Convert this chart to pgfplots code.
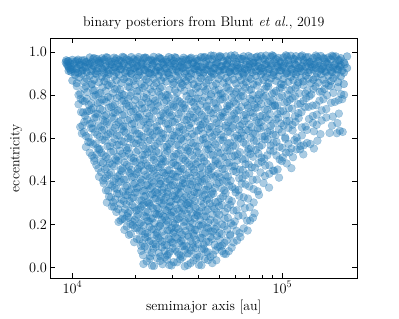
\documentclass[border=0pt]{standalone}
\usepackage{pgfplots}
\pgfplotsset{compat=1.18}
\definecolor{tabblue}{RGB}{31,119,180}
\pgfplotsset{pts/.style={only marks, mark=*, mark size=3.95bp, color=tabblue, opacity=0.38, mark options={line width=0.3bp}},
 ptstop/.style={only marks, mark=*, mark size=3.95bp, color=tabblue, opacity=0.45, mark options={line width=0.3bp}}}
\begin{document}
\begin{tikzpicture}
\begin{axis}[
  scale only axis, width=306.5bp, height=239.5bp,
  at={(0,0)}, anchor=south west,
  xmode=log, xmin=7870, xmax=227000, ymin=-0.048, ymax=1.062,
  xtick={10000,100000},
  ytick={0,0.2,0.4,0.6,0.8,1},
  yticklabel style={/pgf/number format/.cd, fixed, fixed zerofill, precision=1},
  tick align=inside, xtick pos=both, ytick pos=both,
  major tick length=4.9bp, minor tick length=2.8bp,
  every tick/.style={black, line width=0.6bp},
  axis line style={line width=0.8bp},
  tick label style={font=\fontsize{13.9bp}{16bp}\selectfont},
  label style={font=\fontsize{13.9bp}{16bp}\selectfont},
  title style={font=\fontsize{13.9bp}{16bp}\selectfont},
  title={binary posteriors from Blunt \textit{et al.}, 2019},
  xlabel={semimajor axis [au]},
  ylabel={eccentricity},
]
% e 0.00-0.30
\addplot[pts] coordinates {
(21800,.017) (23400,.042) (24500,.008) (26200,.031) (27600,.048) (29000,.012) (30400,.026) (32700,.039) (34300,.006) (36600,.021) (38900,.045) (41200,.011) (44300,.035) (48500,.034)
(21300,.078) (22100,.097) (23500,.053) (24300,.088) (25800,.069) (26700,.094) (28300,.057) (29100,.074) (30900,.083) (32200,.061) (33500,.099) (35400,.066) (36700,.079) (38600,.091) (40300,.051) (42400,.086) (44100,.072) (46800,.060) (49300,.096) (51600,.077) (53800,.063) (57400,.093)
(19700,.118) (20900,.132) (21600,.113) (22800,.143) (23600,.125) (24900,.108) (25700,.137) (26800,.120) (28200,.104) (29300,.130) (30100,.115) (31700,.134) (32900,.123) (34100,.100) (35900,.144) (37300,.111) (38800,.128) (40700,.139) (42200,.106) (44600,.119) (46300,.133) (48900,.147) (51700,.102) (54300,.125) (58600,.117) (63200,.142)
(17700,.175) (18600,.152) (19400,.197) (20300,.183) (21500,.169) (22200,.156) (23300,.189) (24400,.178) (25300,.161) (26100,.194) (27500,.150) (28400,.173) (29700,.184) (30500,.165) (31900,.180) (33300,.154) (34600,.170) (36200,.187) (37600,.158) (39100,.175) (41000,.193) (42900,.163) (44500,.182) (46700,.168) (48900,.190) (51500,.156) (54700,.177) (58300,.196) (62600,.160) (68400,.172)
(16600,.212) (17300,.226) (18200,.239) (18900,.202) (19800,.221) (20600,.245) (21300,.209) (22500,.235) (23200,.214) (24100,.228) (25200,.247) (26300,.203) (27100,.238) (28000,.219) (29300,.244) (30200,.207) (31400,.224) (32500,.233) (33900,.211) (35100,.249) (36500,.216) (38300,.229) (39600,.241) (41700,.201) (43300,.236) (45400,.222) (47600,.210) (50200,.246) (53100,.227) (57000,.206) (61800,.240) (68000,.218) (72500,.231)
(15400,.283) (16200,.258) (16900,.296) (17800,.271) (18400,.253) (19300,.289) (20200,.265) (21100,.278) (21800,.294) (22900,.260) (23600,.286) (24800,.251) (25600,.274) (26600,.299) (27700,.268) (28800,.281) (29800,.256) (31000,.291) (32300,.263) (33400,.277) (34900,.295) (36200,.269) (37900,.288) (39400,.254) (41300,.280) (43100,.262) (45200,.297) (47500,.273) (50100,.285) (53300,.259) (56400,.292) (60600,.266) (66300,.276) (73800,.252)
};
% e 0.30-0.60
\addplot[pts] coordinates {
(14600,.302) (15300,.326) (16000,.316) (16700,.342) (17600,.309) (18300,.335) (19200,.323) (19900,.347) (20800,.312) (21900,.330) (22700,.304) (23500,.338) (24600,.319) (25400,.345) (26500,.327) (27300,.313) (28600,.341) (29500,.306) (30700,.331) (31600,.318) (32800,.349) (34200,.324) (35600,.301) (36800,.336) (38400,.310) (40100,.344) (41800,.328) (43700,.315) (45800,.339) (48100,.303) (50800,.321) (53700,.346) (57500,.308) (62400,.333) (68700,.320) (77500,.337)
(14100,.391) (14800,.357) (15500,.379) (16300,.364) (17000,.398) (17900,.372) (18600,.353) (19500,.386) (20300,.368) (21200,.394) (22100,.359) (22900,.381) (24000,.375) (24800,.350) (25900,.389) (26700,.362) (27900,.396) (28800,.370) (30100,.383) (31100,.355) (32400,.377) (33600,.392) (35100,.366) (36400,.387) (38000,.351) (39700,.374) (41500,.399) (43400,.361) (45200,.384) (47600,.369) (50000,.395) (52900,.358) (55800,.380) (59700,.363) (64100,.390) (69600,.376) (76400,.354) (86500,.371)
(13400,.421) (14000,.404) (14700,.426) (15300,.440) (16100,.413) (16800,.430) (17600,.408) (18500,.445) (19200,.419) (20100,.434) (21100,.411) (21900,.449) (22800,.424) (23900,.401) (24700,.437) (25800,.416) (26900,.442) (27800,.427) (29100,.405) (30200,.433) (31500,.420) (32700,.446) (34100,.412) (35800,.439) (37200,.400) (38900,.425) (40700,.431) (42600,.409) (44500,.444) (46900,.418) (49300,.436) (52000,.403) (55100,.422) (58400,.448) (62300,.414) (66900,.429) (72300,.407) (78800,.441) (86700,.435) (96500,.417)
(12700,.495) (13300,.459) (14000,.485) (14600,.464) (15500,.478) (16200,.497) (17000,.453) (17700,.488) (18600,.469) (19600,.494) (20500,.457) (21300,.474) (22400,.483) (23300,.461) (24400,.499) (25600,.466) (26600,.479) (27800,.491) (29000,.451) (30300,.486) (31700,.472) (33000,.460) (34500,.496) (36200,.477) (37800,.456) (39600,.490) (41500,.468) (43600,.482) (45700,.463) (48100,.493) (50500,.475) (53200,.458) (56100,.487) (59300,.470) (62800,.454) (66800,.480) (71500,.465) (76800,.484) (83000,.473) (90500,.450) (99500,.494) (110500,.461)
(12100,.533) (12700,.508) (13400,.546) (14100,.521) (14800,.503) (15700,.539) (16400,.515) (17300,.528) (18200,.544) (19100,.510) (20100,.536) (21000,.501) (22200,.524) (23300,.549) (24400,.518) (25800,.531) (26900,.506) (28300,.541) (29800,.513) (31200,.527) (32800,.545) (34500,.519) (36400,.538) (38200,.504) (40100,.530) (42300,.512) (44500,.547) (46800,.523) (49400,.535) (52100,.509) (54800,.542) (57900,.516) (61200,.526) (64600,.502) (68500,.537) (72600,.514) (77000,.529) (82100,.505) (87600,.543) (93800,.520) (100500,.511) (108000,.534) (117000,.548) (126000,.525)
(11600,.559) (12200,.581) (12900,.575) (13500,.550) (14300,.589) (15100,.562) (15900,.596) (16700,.570) (17600,.583) (18500,.555) (19600,.577) (20600,.592) (21700,.566) (22900,.587) (24000,.551) (25400,.574) (26700,.599) (28200,.561) (29600,.584) (31300,.569) (32900,.595) (34700,.558) (36700,.580) (38600,.563) (40800,.590) (43000,.576) (45500,.554) (48000,.571) (50700,.591) (53600,.557) (56600,.579) (59900,.564) (63400,.598) (67100,.572) (71000,.553) (75400,.586) (80000,.568) (85300,.594) (90800,.578) (97000,.560) (103500,.597) (110500,.552) (118000,.585) (126500,.567) (136000,.573) (147000,.588)
};
% e 0.00-0.60, second set
\addplot[pts] coordinates {
(22600,.029) (23950,.009) (25350,.044) (26900,.016) (28300,.037) (29700,.010) (31550,.025) (33500,.048) (35450,.012) (37750,.033) (40050,.013) (42750,.040) (46400,.021)
(21700,.058) (22800,.086) (23900,.069) (25050,.097) (26250,.052) (27500,.078) (28700,.063) (30000,.091) (31550,.074) (32850,.055) (34450,.083) (36050,.066) (37650,.094) (39450,.060) (41350,.088) (43250,.072) (45450,.050) (48050,.080) (50450,.098) (52700,.065) (55600,.076)
(20300,.133) (21250,.101) (22200,.140) (23200,.121) (24250,.110) (25300,.146) (26250,.127) (27500,.105) (28750,.135) (29700,.118) (30900,.142) (32300,.114) (33500,.131) (35000,.100) (36600,.123) (38050,.147) (39750,.109) (41450,.138) (43400,.120) (45450,.143) (47600,.106) (50300,.130) (53000,.115) (56450,.149) (60900,.126)
(18150,.190) (19000,.156) (19850,.184) (20900,.170) (21850,.195) (22750,.161) (23850,.177) (24850,.153) (25700,.189) (26800,.167) (27950,.199) (29050,.173) (30100,.159) (31200,.185) (32600,.164) (33950,.192) (35400,.151) (36900,.181) (38350,.175) (40050,.196) (41950,.157) (43700,.187) (45600,.168) (47800,.179) (50200,.162) (53100,.193) (56500,.154) (60450,.171) (65500,.182)
(16950,.219) (17750,.224) (18550,.232) (19350,.213) (20200,.236) (20950,.204) (21900,.241) (22850,.217) (23650,.228) (24650,.207) (25750,.245) (26700,.222) (27550,.234) (28650,.211) (29750,.239) (30800,.202) (31950,.226) (33200,.249) (34500,.215) (35800,.230) (37400,.206) (38950,.243) (40650,.220) (42500,.238) (44350,.209) (46500,.247) (48900,.223) (51650,.200) (55050,.231) (59400,.214) (64900,.242) (70250,.218)
(15800,.282) (16550,.271) (17350,.254) (18100,.293) (18850,.262) (19750,.279) (20650,.268) (21450,.287) (22350,.257) (23250,.296) (24200,.275) (25200,.281) (26100,.251) (27150,.292) (28250,.264) (29300,.285) (30400,.259) (31650,.273) (32850,.299) (34150,.267) (35550,.289) (37050,.253) (38650,.277) (40350,.261) (42200,.295) (44150,.270) (46350,.284) (48800,.256) (51700,.290) (54850,.276) (58500,.265) (63450,.298) (70000,.280)
(14950,.329) (15650,.303) (16350,.344) (17150,.316) (17950,.337) (18750,.308) (19550,.325) (20350,.348) (21350,.312) (22300,.333) (23100,.301) (24050,.340) (25000,.321) (25950,.310) (26900,.346) (27950,.327) (29050,.305) (30100,.335) (31150,.318) (32200,.342) (33500,.314) (34900,.331) (36200,.300) (37600,.323) (39250,.347) (40950,.309) (42750,.338) (44750,.320) (46950,.343) (49450,.306) (52250,.330) (55600,.315) (59950,.349) (65550,.326) (73100,.302)
(14450,.358) (15150,.386) (15900,.369) (16650,.397) (17450,.352) (18250,.378) (19050,.363) (19900,.391) (20750,.374) (21650,.355) (22500,.383) (23450,.366) (24400,.394) (25350,.360) (26300,.388) (27300,.372) (28350,.350) (29450,.380) (30600,.398) (31750,.365) (33000,.376) (34350,.390) (35750,.356) (37200,.384) (38850,.370) (40600,.395) (42450,.361) (44300,.377) (46400,.353) (48800,.389) (51450,.367) (54350,.399) (57750,.373) (61900,.359) (66850,.385) (73000,.364) (81450,.392)
(13700,.442) (14350,.414) (15000,.431) (15700,.400) (16450,.423) (17200,.447) (18050,.409) (18850,.438) (19650,.420) (20600,.443) (21500,.406) (22350,.430) (23350,.415) (24300,.449) (25250,.426) (26350,.402) (27350,.439) (28450,.411) (29650,.434) (30850,.422) (32100,.445) (33400,.407) (34950,.428) (36500,.417) (38050,.441) (39800,.404) (41650,.436) (43550,.413) (45700,.432) (48100,.424) (50650,.419) (53550,.429) (56750,.403) (60350,.444) (64600,.416) (69600,.437) (75550,.408) (82750,.425) (91600,.448)
(13000,.476) (13650,.490) (14300,.456) (15050,.484) (15850,.470) (16600,.495) (17350,.461) (18150,.477) (19100,.453) (20050,.489) (20900,.467) (21850,.499) (22850,.473) (23850,.459) (25000,.485) (26100,.464) (27200,.492) (28400,.451) (29650,.481) (31000,.475) (32350,.496) (33750,.457) (35350,.487) (37000,.468) (38700,.479) (40550,.462) (42550,.493) (44650,.454) (46900,.471) (49300,.482) (51850,.458) (54650,.486) (57700,.469) (61050,.497) (64800,.452) (69150,.478) (74150,.463) (79900,.491) (86750,.474) (95000,.455) (105000,.483)
(12400,.519) (13050,.524) (13750,.532) (14450,.513) (15250,.536) (16050,.504) (16850,.541) (17750,.517) (18650,.528) (19600,.507) (20550,.545) (21600,.522) (22750,.534) (23850,.511) (25100,.539) (26350,.502) (27600,.526) (29050,.549) (30500,.515) (32000,.530) (33650,.506) (35450,.543) (37300,.520) (39150,.538) (41200,.509) (43400,.547) (45650,.523) (48100,.500) (50750,.531) (53450,.514) (56350,.542) (59550,.518) (62900,.535) (66550,.505) (70550,.527) (74800,.546) (79550,.510) (84850,.521) (90700,.540) (97150,.501) (104250,.533) (112500,.512) (121500,.548)
(11900,.582) (12550,.571) (13200,.554) (13900,.593) (14700,.562) (15500,.579) (16300,.568) (17150,.587) (18050,.557) (19050,.596) (20100,.575) (21150,.581) (22300,.551) (23450,.592) (24700,.564) (26050,.585) (27450,.559) (28900,.573) (30450,.599) (32100,.567) (33800,.589) (35700,.553) (37650,.577) (39700,.561) (41900,.595) (44250,.570) (46750,.584) (49350,.556) (52150,.590) (55100,.576) (58250,.565) (61650,.598) (65250,.580) (69050,.550) (73200,.588) (77700,.560) (82650,.594) (88050,.566) (93900,.583) (100250,.555) (107000,.574) (114250,.591) (122250,.563) (131250,.578) (141500,.552)
};
% e 0.60-0.85
\addplot[pts] coordinates {
(11100,.622) (11600,.610) (12300,.646) (12800,.627) (13500,.606) (14200,.640) (14800,.618) (15600,.632) (16300,.613) (17200,.643) (18000,.625) (18900,.608) (19900,.637) (20800,.620) (21900,.604) (22900,.630) (24100,.615) (25200,.634) (26500,.623) (27800,.600) (29200,.644) (30600,.611) (32200,.628) (33700,.639) (35400,.606) (37200,.619) (39000,.633) (41000,.647) (43100,.602) (45200,.625) (47500,.617) (49900,.642) (52500,.605) (55100,.631) (57900,.648) (60900,.612) (64000,.626) (67300,.639) (70700,.602) (74400,.621) (78300,.645) (82600,.609) (87500,.635) (93000,.614) (99500,.628) (107000,.647) (117000,.603) (131000,.638) (152000,.619) (188000,.634) (182000,.623) (194000,.629)
(10900,.652) (11400,.676) (12100,.666) (12700,.692) (13300,.659) (14000,.685) (14600,.673) (15400,.697) (16200,.662) (17000,.680) (17900,.654) (18800,.688) (19700,.669) (20700,.695) (21800,.677) (22900,.663) (24000,.691) (25300,.656) (26600,.681) (27900,.668) (29300,.699) (30800,.674) (32400,.651) (34100,.686) (35900,.660) (37700,.694) (39700,.678) (41800,.665) (43900,.689) (46200,.653) (48600,.671) (51200,.696) (53800,.658) (56700,.683) (59700,.691) (62800,.657) (66100,.679) (69600,.664) (73300,.698) (77200,.672) (81300,.653) (85800,.686) (90600,.668) (95800,.694) (101500,.659) (108000,.681) (115500,.675) (124000,.650) (134000,.689) (146000,.662) (162000,.696) (183000,.670)
(11000,.721) (11500,.704) (12000,.726) (12600,.740) (13200,.713) (13900,.730) (14500,.708) (15300,.745) (16000,.719) (16900,.734) (17700,.711) (18600,.749) (19500,.724) (20500,.701) (21500,.737) (22700,.716) (23800,.742) (25000,.727) (26300,.705) (27700,.733) (29000,.720) (30500,.746) (32100,.712) (33800,.739) (35500,.700) (37300,.725) (39300,.731) (41300,.709) (43500,.744) (45700,.718) (48100,.736) (50600,.703) (53300,.722) (56100,.748) (59000,.714) (62100,.729) (65400,.707) (68800,.741) (72500,.717) (76300,.742) (80500,.705) (85000,.731) (89800,.748) (95100,.712) (101000,.726) (107500,.739) (115000,.702) (123500,.721) (133500,.745) (146000,.709) (162000,.735) (186000,.714)
(10700,.757) (11200,.774) (11700,.783) (12300,.761) (12900,.799) (13500,.766) (14200,.779) (14800,.791) (15600,.751) (16300,.786) (17200,.772) (18000,.760) (18900,.796) (19900,.777) (20900,.756) (21900,.790) (23000,.768) (24200,.782) (25400,.763) (26700,.793) (28000,.775) (29400,.758) (30900,.787) (32500,.770) (34100,.754) (35900,.780) (37700,.765) (39600,.784) (41600,.773) (43700,.750) (45900,.794) (48300,.761) (50700,.778) (53300,.789) (56000,.756) (58800,.769) (61800,.783) (65000,.797) (68300,.752) (71800,.775) (75500,.783) (79300,.758) (83400,.796) (87700,.771) (92300,.753) (97200,.789) (102500,.765) (108500,.778) (115000,.794) (122000,.760) (130000,.786) (139500,.751) (150500,.774) (163500,.799) (178000,.768) (193000,.781)
(10500,.841) (10900,.807) (11400,.829) (11800,.814) (12300,.848) (12800,.822) (13300,.803) (13900,.836) (14400,.818) (15000,.844) (15600,.809) (16300,.831) (16900,.825) (17600,.800) (18400,.839) (19100,.812) (19900,.846) (20800,.820) (21600,.833) (22600,.805) (23500,.827) (24500,.842) (25600,.816) (26700,.837) (27800,.801) (29000,.824) (30200,.849) (31500,.811) (32800,.834) (34200,.819) (35700,.845) (37200,.808) (38800,.830) (40400,.813) (42100,.840) (43900,.826) (45800,.804) (47800,.821) (49800,.825) (52000,.808) (54200,.837) (56500,.820) (58900,.804) (61400,.830) (64000,.815) (66800,.834) (69600,.823) (72600,.800) (75700,.844) (78900,.811) (82300,.828) (85800,.839) (89500,.806) (93300,.819) (97300,.833) (101500,.847) (106000,.802) (110500,.825) (115500,.833) (120500,.808) (126000,.846) (131500,.821) (137500,.803) (144000,.839) (151000,.815) (158500,.828) (166500,.844) (175000,.810) (184500,.836) (197000,.801)
};
% e 0.60-0.85, second set
\addplot[pts] coordinates {
(11350,.629) (11950,.603) (12550,.644) (13150,.616) (13850,.637) (14500,.608) (15200,.625) (15950,.648) (16750,.612) (17600,.633) (18450,.601) (19400,.640) (20350,.621) (21350,.610) (22400,.646) (23500,.627) (24650,.605) (25850,.635) (27150,.618) (28500,.642) (29900,.614) (31400,.631) (32950,.600) (34550,.623) (36300,.647) (38100,.609) (40000,.638) (42050,.620) (44150,.643) (46350,.606) (48700,.630) (51200,.615) (53800,.649) (56500,.626) (59400,.602) (62450,.639) (65650,.611) (69000,.634) (72550,.622) (76350,.645) (80450,.607) (85050,.628) (90250,.617) (96250,.641) (103250,.604) (112000,.636) (124000,.613) (141500,.632) (168000,.624)
(11150,.658) (11750,.686) (12400,.669) (13000,.697) (13650,.652) (14300,.678) (15000,.663) (15800,.691) (16600,.674) (17450,.655) (18350,.683) (19250,.666) (20200,.694) (21250,.660) (22350,.688) (23450,.672) (24650,.650) (25950,.680) (27250,.698) (28600,.665) (30050,.676) (31600,.690) (33250,.656) (35000,.684) (36800,.670) (38700,.695) (40750,.661) (42850,.677) (45050,.653) (47400,.689) (49900,.667) (52500,.699) (55250,.673) (58200,.659) (61250,.685) (64450,.664) (67850,.692) (71450,.651) (75250,.681) (79250,.675) (83550,.696) (88200,.657) (93200,.687) (98650,.668) (104750,.679) (111750,.662) (119750,.693) (129000,.654) (140000,.671) (154000,.682) (172500,.658)
(11250,.719) (11750,.724) (12300,.732) (12900,.713) (13550,.736) (14200,.704) (14900,.741) (15650,.717) (16450,.728) (17300,.707) (18150,.745) (19050,.722) (20000,.734) (21000,.711) (22100,.739) (23250,.702) (24400,.726) (25650,.749) (27000,.715) (28350,.730) (29750,.706) (31300,.743) (32950,.720) (34650,.738) (36400,.709) (38300,.747) (40300,.723) (42400,.700) (44600,.731) (46900,.714) (49350,.742) (51950,.718) (54700,.735) (57550,.705) (60550,.727) (63750,.746) (67100,.710) (70650,.721) (74400,.740) (78400,.701) (82750,.733) (87400,.712) (92450,.748) (98050,.725) (104250,.708) (111250,.737) (119250,.716) (128500,.744) (139750,.703) (154000,.729) (174000,.700)
(10950,.782) (11450,.771) (12000,.754) (12600,.793) (13200,.762) (13850,.779) (14500,.768) (15200,.787) (15950,.757) (16750,.796) (17600,.775) (18450,.781) (19400,.751) (20400,.792) (21400,.764) (22450,.785) (23600,.759) (24800,.773) (26050,.799) (27350,.767) (28700,.789) (30150,.753) (31700,.777) (33300,.761) (35000,.795) (36800,.770) (38650,.784) (40600,.756) (42650,.790) (44800,.776) (47100,.765) (49500,.798) (52000,.780) (54650,.750) (57400,.788) (60300,.760) (63400,.794) (66650,.766) (70050,.783) (73650,.755) (77400,.774) (81350,.791) (85550,.763) (90000,.778) (94750,.752) (99850,.797) (105500,.769) (111750,.786) (118500,.758) (126000,.772) (134750,.795) (145000,.753) (157000,.781) (170750,.764) (185500,.776)
(10700,.801) (11600,.840) (12550,.821) (13600,.810) (14700,.846) (15950,.827) (17250,.805) (18750,.835) (20350,.818) (22100,.842) (24000,.814) (26150,.831) (28400,.800) (30850,.823) (33500,.847) (36450,.809) (39600,.838) (43000,.820) (46800,.843) (50900,.806) (55350,.830) (60150,.815) (65400,.849) (71100,.826) (77300,.802) (84050,.839) (91400,.811) (99400,.834) (108250,.822) (118000,.845) (128750,.807) (140750,.828) (154750,.817) (170750,.841) (190750,.804)
};
% e 0.85-0.90
\addplot[ptstop] coordinates {
(10000,.867) (10300,.892) (10500,.855) (10800,.881) (11100,.898) (11400,.862) (11700,.876) (12100,.889) (12400,.852) (12700,.871) (13100,.895) (13400,.859) (13800,.885) (14200,.864) (14500,.878) (14900,.897) (15400,.853) (15800,.888) (16200,.869) (16700,.894) (17100,.857) (17600,.874) (18100,.883) (18600,.861) (19100,.899) (19600,.866) (20200,.879) (20700,.891) (21300,.851) (21900,.886) (22500,.872) (23100,.860) (23800,.896) (24400,.877) (25100,.856) (25800,.890) (26500,.868) (27200,.882) (28000,.863) (28800,.893) (29600,.875) (30400,.858) (31200,.887) (32100,.870) (33000,.854) (33900,.880) (34800,.865) (35800,.884) (36800,.873) (37800,.850) (38900,.894) (39900,.861) (41000,.878) (42200,.889) (43400,.856) (44600,.869) (45800,.883) (47100,.897) (48400,.852) (49700,.875)
(51100,.891) (52500,.857) (54000,.879) (55500,.864) (57000,.898) (58600,.872) (60200,.853) (61900,.886) (63600,.868) (65400,.894) (67200,.859) (69000,.881) (70900,.875) (72900,.850) (74900,.889) (77000,.862) (79100,.896) (81300,.870) (83600,.883) (85900,.855) (88300,.877) (90700,.892) (93200,.866) (95800,.887) (98500,.851) (101200,.874) (104000,.899) (106900,.861) (109900,.884) (112900,.869) (116100,.895) (119300,.858) (122600,.880) (126000,.863) (129500,.890) (133100,.876) (136800,.854) (140600,.871) (144500,.883) (148500,.858) (152600,.896) (156800,.871) (161200,.853) (165700,.889) (170300,.865) (175000,.878) (179900,.894) (184900,.860) (190000,.886) (196500,.851)
};
% e 0.90-0.95
\addplot[ptstop] coordinates {
(9600,.912) (9750,.947) (9850,.929) (9500,.936) (9650,.924) (9800,.917) (9400,.944)
(10000,.921) (10300,.904) (10500,.926) (10800,.940) (11100,.913) (11400,.930) (11700,.908) (12100,.945) (12400,.919) (12700,.934) (13100,.911) (13400,.949) (13800,.924) (14200,.901) (14500,.937) (14900,.916) (15400,.942) (15800,.927) (16200,.905) (16700,.933) (17100,.920) (17600,.946) (18100,.912) (18600,.939) (19100,.900) (19600,.925) (20200,.931) (20700,.909) (21300,.944) (21900,.918) (22500,.936) (23100,.903) (23800,.922) (24400,.948) (25100,.914) (25800,.929) (26500,.907) (27200,.941)
(28000,.925) (28800,.902) (29600,.947) (30400,.933) (31200,.919) (32100,.906) (33000,.939) (33900,.928) (34800,.911) (35800,.944) (36800,.900) (37800,.923) (38900,.934) (39900,.915) (41000,.930) (42200,.904) (43400,.920) (44600,.937) (45800,.908) (47100,.925) (48400,.943) (49700,.913) (51100,.932) (52500,.918) (54000,.940) (55500,.906) (57000,.927) (58600,.946) (60200,.910) (61900,.922) (63600,.936) (65400,.901) (67200,.941) (69000,.929) (70900,.916) (72900,.949) (74900,.911) (77000,.933) (79100,.924) (81300,.907) (83600,.944) (85900,.919) (88300,.938) (90700,.903) (93200,.947) (95800,.928) (98500,.914) (101200,.935) (104000,.909) (106900,.945) (109900,.921) (112900,.902) (116100,.939) (119300,.926) (122600,.912) (126000,.948) (129500,.931) (133100,.905) (136800,.942) (140600,.917)
(144500,.924) (148500,.949) (152600,.918) (156800,.931) (161200,.906) (165700,.941) (170300,.913) (175000,.927) (179900,.945) (184900,.919) (190000,.938) (196500,.904)
(9600,.933) (9850,.908) (10150,.946) (10450,.921) (10650,.903) (10950,.939) (11250,.915) (11550,.928) (11900,.944) (12250,.910) (12550,.936) (12900,.901) (13250,.924) (13600,.949) (14000,.918) (14350,.931) (14700,.906) (15150,.941) (15600,.913) (16000,.927) (16450,.945) (16900,.919) (17350,.938) (17850,.904) (18350,.930) (18850,.912) (19350,.947) (19900,.923) (20450,.935) (21000,.909) (21600,.942) (22200,.916) (22800,.926) (23450,.902)
(24100,.941) (24750,.907) (25450,.929) (26150,.914) (26850,.948) (27600,.922) (28400,.903) (29200,.936) (30000,.918) (30800,.944) (31650,.909) (32550,.931) (33450,.925) (34350,.900) (35300,.939) (36300,.912) (37300,.946) (38350,.920) (39400,.933) (40450,.905) (41600,.927) (42800,.942) (44000,.916) (45200,.937) (46450,.901) (47750,.924) (49050,.949) (50400,.911) (51800,.934) (53250,.919) (54750,.945) (56250,.908) (57800,.930) (59400,.913) (61050,.940) (62750,.926) (64500,.904) (66300,.921)
(68100,.917) (69950,.942) (71900,.905) (73900,.931) (75950,.948) (78050,.912) (80200,.926) (82450,.939) (84750,.902) (87100,.921) (89500,.945) (91950,.909) (94500,.935) (97150,.914) (99850,.928) (102600,.947) (105450,.903) (108400,.938) (111400,.919) (114500,.944) (117700,.907) (120950,.924) (124300,.933) (127750,.911) (131300,.949) (134950,.916) (138700,.929) (142550,.941) (146500,.901) (150550,.936) (154700,.922) (159000,.910) (163450,.946) (168000,.927) (172650,.906) (177450,.940) (182400,.918) (187500,.932) (192800,.913) (198500,.943) (203500,.925)
};
% e 0.95-0.985
\addplot[ptstop] coordinates {
(9300,.952) (9350,.961) (9500,.956)
(10000,.963) (10300,.955) (10500,.958) (10800,.951) (11100,.960) (11400,.962) (11700,.953) (12100,.974) (12400,.952) (12700,.971) (13100,.967) (13400,.959) (13800,.970) (14200,.964) (14500,.975) (14900,.956) (15400,.953) (15800,.973) (16200,.969) (16700,.961) (17100,.957) (17600,.974) (18100,.966) (18600,.961) (19100,.976) (19600,.966) (20200,.958) (20700,.976) (21300,.951) (21900,.971) (22500,.972) (23100,.960) (23800,.963) (24400,.977) (25100,.956) (25800,.975) (26500,.968) (27200,.954) (28000,.963) (28800,.976) (29600,.970) (30400,.958) (31200,.972) (32100,.955) (33000,.954) (33900,.973) (34800,.965) (35800,.962) (36800,.973) (37800,.950) (38900,.968) (39900,.961) (41000,.976) (42200,.974) (43400,.956) (44600,.969) (45800,.983) (47100,.982) (48400,.952) (49700,.975)
(51100,.976) (52500,.957) (54000,.979) (55500,.964) (57000,.983) (58600,.972) (60200,.953) (61900,.971) (63600,.968) (65400,.979) (67200,.959) (69000,.981) (70900,.975) (72900,.950) (74900,.974) (77000,.962) (79100,.981) (81300,.970) (83600,.983) (85900,.955) (88300,.977) (90700,.980) (93200,.966) (95800,.972) (98500,.951) (101200,.974) (104000,.984) (106900,.961) (109900,.982) (112900,.969) (116100,.980) (119300,.958) (122600,.978) (126000,.963) (129500,.975) (133100,.976) (136800,.954) (140600,.971) (144500,.983) (148500,.958) (152600,.981) (156800,.971) (161200,.953) (165700,.974) (170300,.965) (175000,.978) (179900,.979) (184900,.960) (190000,.971) (196500,.951)
(9600,.957) (10650,.964) (11550,.952) (12550,.968) (13600,.956) (14700,.973) (16000,.960) (17350,.977) (18850,.955) (20450,.966) (22200,.974) (24100,.958) (26150,.970) (28400,.953) (30800,.975) (33450,.962) (36300,.969) (39400,.957) (42800,.976) (46450,.966) (50400,.981) (54750,.960) (59400,.984) (64500,.967) (69950,.955) (75950,.978) (82450,.963) (89500,.984) (97150,.957) (105450,.979) (114500,.965) (124300,.983) (134950,.952) (146500,.976) (159000,.968) (172650,.982) (187500,.962) (203500,.979)
};
\end{axis}
\pgfresetboundingbox
\path[use as bounding box] (-50.5bp,-41bp) rectangle (348.5bp,278bp);
\end{tikzpicture}
\end{document}
